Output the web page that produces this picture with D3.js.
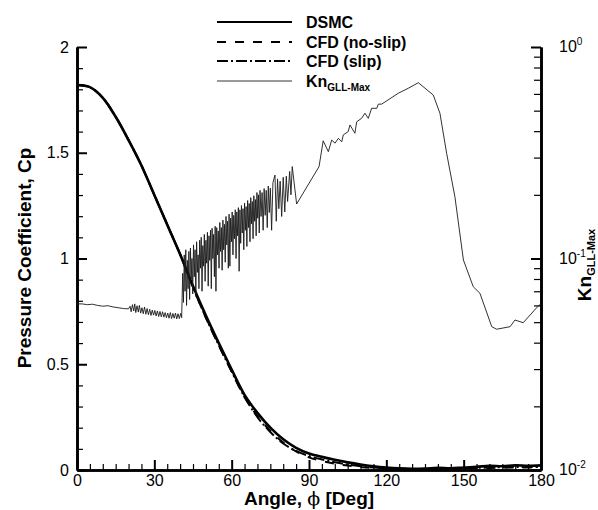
<!DOCTYPE html>
<html>
<head>
<meta charset="utf-8">
<script src="https://cdn.jsdelivr.net/npm/d3@7"></script>
<style>
  body { margin: 0; background: #fff; }
  text { font-family: "Liberation Sans", Arial, Helvetica, sans-serif; }
</style>
</head>
<body>
<script>
// Cp along the surface, angle in degrees
var cpAngle = [0, 5, 10, 15, 20, 25, 30, 35, 40, 45, 50, 55, 60, 65, 70, 75, 80, 85, 90, 95,
               100, 105, 110, 115, 120, 125, 130, 135, 140, 145, 150, 155, 160, 165, 170, 175, 180];
var cpDsmc = [1.82, 1.81, 1.76, 1.67, 1.56, 1.44, 1.30, 1.16, 1.02, 0.87, 0.73, 0.60, 0.475, 0.355, 0.27, 0.2, 0.145, 0.105, 0.078, 0.062,
              0.048, 0.036, 0.026, 0.018, 0.012, 0.008, 0.006, 0.007, 0.010, 0.008, 0.012, 0.015, 0.020, 0.018, 0.022, 0.020, 0.022];
var cpNoSlip = [1.82, 1.81, 1.76, 1.67, 1.56, 1.44, 1.30, 1.16, 1.02, 0.865, 0.72, 0.59, 0.465, 0.345, 0.255, 0.185, 0.13, 0.088, 0.06, 0.042,
                0.03, 0.021, 0.014, 0.009, 0.006, 0.004, 0.003, 0.003, 0.004, 0.005, 0.006, 0.008, 0.010, 0.011, 0.012, 0.012, 0.013];
var cpSlip = [1.82, 1.81, 1.76, 1.67, 1.56, 1.44, 1.30, 1.16, 1.02, 0.865, 0.72, 0.59, 0.465, 0.345, 0.25, 0.18, 0.125, 0.09, 0.066, 0.05,
              0.037, 0.026, 0.018, 0.012, 0.008, 0.006, 0.005, 0.005, 0.006, 0.007, 0.008, 0.010, 0.012, 0.013, 0.014, 0.014, 0.015];

// Kn GLL-Max, [angle, value]
var knData = [
  [0, 0.061], [2, 0.061], [4, 0.0605], [6, 0.0608], [8, 0.060], [10, 0.0595], [12, 0.0598], [14, 0.059],
  [16, 0.0585], [18, 0.058], [20, 0.0578], [20.6, 0.0595], [21, 0.056], [21.5, 0.0605], [22, 0.0565], [22.4, 0.061],
  [22.8, 0.0555], [23.3, 0.0598], [23.8, 0.0558], [24.2, 0.060], [24.7, 0.0552], [25.2, 0.0585], [25.7, 0.0548], [26.2, 0.059],
  [26.7, 0.0545], [27.2, 0.058], [27.7, 0.0542], [28.2, 0.0575], [28.7, 0.0538], [29.2, 0.057], [29.7, 0.054], [30.2, 0.0568],
  [30.7, 0.0535], [31.2, 0.0565], [31.7, 0.0532], [32.2, 0.0562], [32.7, 0.053], [33.2, 0.056], [33.7, 0.0528], [34.2, 0.0555],
  [34.7, 0.0525], [35.2, 0.0552], [35.7, 0.0522], [36.2, 0.0555], [36.7, 0.052], [37.2, 0.055], [37.7, 0.0522], [38.2, 0.0552],
  [38.7, 0.0518], [39.2, 0.0548], [39.7, 0.052], [40.2, 0.055], [40.6, 0.0525],
  [41.0, 0.085], [41.3, 0.062], [41.6, 0.104], [41.9, 0.07], [42.2, 0.11], [42.5, 0.06], [42.8, 0.098], [43.1, 0.072],
  [43.4, 0.108], [43.7, 0.064], [44.0, 0.112], [44.3, 0.08], [44.6, 0.1], [44.9, 0.068], [45.2, 0.116], [45.5, 0.082],
  [45.8, 0.11], [46.1, 0.066], [46.4, 0.12], [46.7, 0.086], [47.0, 0.104], [47.3, 0.072], [47.6, 0.122], [47.9, 0.09],
  [48.2, 0.126], [48.5, 0.07], [48.8, 0.115], [49.1, 0.092], [49.4, 0.13], [49.7, 0.078], [50.0, 0.122], [50.3, 0.095],
  [50.6, 0.133], [50.9, 0.074], [51.2, 0.128], [51.5, 0.098], [51.8, 0.136], [52.1, 0.072], [52.4, 0.139], [52.7, 0.1],
  [53.0, 0.13], [53.3, 0.082], [53.6, 0.142], [53.9, 0.07], [54.2, 0.14], [54.5, 0.104], [54.8, 0.135], [55.1, 0.09],
  [55.4, 0.148], [55.7, 0.108], [56.0, 0.14], [56.3, 0.088], [56.6, 0.152], [56.9, 0.11], [57.2, 0.145], [57.5, 0.096],
  [57.8, 0.158], [58.1, 0.116], [58.4, 0.15], [58.7, 0.09], [59.0, 0.162], [59.3, 0.092], [59.6, 0.155], [59.9, 0.12],
  [60.2, 0.166], [60.5, 0.104], [60.8, 0.16], [61.1, 0.124], [61.4, 0.17], [61.7, 0.1], [62.0, 0.166], [62.3, 0.128],
  [62.6, 0.174], [62.9, 0.087], [63.2, 0.17], [63.5, 0.118], [63.8, 0.178], [64.1, 0.132], [64.4, 0.172], [64.7, 0.11],
  [65.0, 0.183], [65.3, 0.136], [65.6, 0.176], [65.9, 0.114], [66.2, 0.188], [66.5, 0.14], [66.8, 0.182], [67.1, 0.12],
  [67.4, 0.194], [67.7, 0.146], [68.0, 0.186], [68.3, 0.124], [68.6, 0.198], [68.9, 0.15], [69.2, 0.19], [69.5, 0.128],
  [69.8, 0.205], [70.1, 0.155], [70.4, 0.2], [70.7, 0.132], [71.0, 0.21], [71.4, 0.158], [71.8, 0.205], [72.2, 0.136],
  [72.6, 0.214], [73.0, 0.16], [73.4, 0.21], [73.8, 0.14], [74.2, 0.22], [74.6, 0.165], [75.0, 0.215], [75.5, 0.136],
  [76.0, 0.228], [76.8, 0.248], [77.3, 0.15], [77.8, 0.238], [78.3, 0.172], [78.8, 0.232], [79.4, 0.158], [80.0, 0.242],
  [80.6, 0.166], [81.2, 0.245], [81.7, 0.186], [82.5, 0.258], [83.0, 0.2], [83.5, 0.272],
  [85.2, 0.181], [93.9, 0.272], [95.5, 0.36], [97.5, 0.32],
  [98.8, 0.363], [100.1, 0.351], [101.4, 0.37], [102.7, 0.356], [103.3, 0.384], [105.2, 0.398], [105.9, 0.428], [107.8, 0.391],
  [108.5, 0.443], [110.4, 0.46], [111.7, 0.486], [113, 0.46], [114.3, 0.513], [116.3, 0.513], [116.9, 0.537], [118.2, 0.537],
  [124.6, 0.604], [128.5, 0.638], [132.4, 0.678], [138.2, 0.593], [140.8, 0.486], [143.4, 0.314], [146.6, 0.196], [149.9, 0.0984],
  [153.7, 0.0736], [156.3, 0.0685], [160.9, 0.0476], [162.8, 0.0463], [168, 0.0476], [169.9, 0.0512], [173.1, 0.0497], [178.9, 0.0596],
  [180, 0.061]
];

var xTicks = [0, 30, 60, 90, 120, 150, 180];
var cpTicks = [0, 0.5, 1, 1.5, 2];
var knTicks = [0.01, 0.1, 1];
var knLabels = ["-2", "-1", "0"];

var width = 598,
    height = 510,
    plotLeft = 77, plotRight = 541, plotTop = 47, plotBottom = 470;

var svg = d3.select("body").append("svg")
    .attr("width", width)
    .attr("height", height);

var x = d3.scaleLinear().domain([0, 180]).range([plotLeft, plotRight]);
var y = d3.scaleLinear().domain([0, 2]).range([plotBottom, plotTop]);
var yKn = d3.scaleLog().domain([0.01, 1]).range([plotBottom, plotTop]);

// minor ticks
var xMinor = d3.range(0, 181, 5).filter(function(d) { return d % 30 != 0; });
var yMinor = d3.range(0, 21).map(function(d) { return d / 10; }).filter(function(d) { return cpTicks.indexOf(d) < 0; });
var knMinor = [];
[0.01, 0.1].forEach(function(dec) {
  for (var k = 2; k <= 9; k++) knMinor.push(dec * k);
});

svg.append("g")
    .attr("transform", "translate(0," + plotBottom + ")")
    .call(d3.axisBottom(x).tickValues(xMinor).tickSize(-6).tickSizeOuter(0).tickFormat(""));
svg.append("g")
    .attr("transform", "translate(" + plotLeft + ",0)")
    .call(d3.axisLeft(y).tickValues(yMinor).tickSize(-6).tickSizeOuter(0).tickFormat(""));
svg.append("g")
    .attr("transform", "translate(" + plotRight + ",0)")
    .call(d3.axisRight(yKn).tickValues(knMinor).tickSize(-7).tickSizeOuter(0).tickFormat(""));

var xAxis = svg.append("g")
    .attr("transform", "translate(0," + plotBottom + ")")
    .call(d3.axisBottom(x).tickValues(xTicks).tickSize(-10).tickSizeOuter(0).tickPadding(5).tickFormat(d3.format("d")));
var yAxis = svg.append("g")
    .attr("transform", "translate(" + plotLeft + ",0)")
    .call(d3.axisLeft(y).tickValues(cpTicks).tickSize(-10).tickSizeOuter(0).tickPadding(8).tickFormat(d3.format("~g")));
var knAxis = svg.append("g")
    .attr("transform", "translate(" + plotRight + ",0)")
    .call(d3.axisRight(yKn).tickValues(knTicks).tickSize(-10).tickSizeOuter(0).tickFormat(""));

svg.selectAll(".tick line").attr("stroke", "#000").attr("stroke-width", 1.2);
[xAxis, yAxis, knAxis].forEach(function(a) {
  a.selectAll(".tick line").attr("stroke-width", 2);
  a.selectAll("text").attr("font-size", 16).attr("fill", "#000")
    .style("font-family", "'Liberation Sans', Arial, sans-serif");
});
svg.selectAll(".domain").attr("stroke", "#000").attr("stroke-width", 2.6);

// log labels on the right
knTicks.forEach(function(t, i) {
  var lab = svg.append("text")
      .attr("x", plotRight + 18)
      .attr("y", yKn(t) + 5)
      .attr("font-size", 16);
  lab.append("tspan").text("10");
  lab.append("tspan").attr("dy", -7).attr("font-size", 10).text(knLabels[i]);
});

// curves
var line = d3.line()
    .x(function(d) { return x(d[0]); })
    .y(function(d) { return y(d[1]); })
    .curve(d3.curveCatmullRom);

function pairs(vals) {
  return cpAngle.map(function(a, i) { return [a, vals[i]]; });
}

var plot = svg.append("g");

plot.append("path")
    .datum(pairs(cpNoSlip))
    .attr("d", line)
    .attr("fill", "none").attr("stroke", "#000").attr("stroke-width", 2)
    .attr("stroke-dasharray", "9,9");

plot.append("path")
    .datum(pairs(cpSlip))
    .attr("d", line)
    .attr("fill", "none").attr("stroke", "#000").attr("stroke-width", 2)
    .attr("stroke-dasharray", "11,3,2,3");

plot.append("path")
    .datum(pairs(cpDsmc))
    .attr("d", line)
    .attr("fill", "none").attr("stroke", "#000").attr("stroke-width", 2.6);

var knLine = d3.line()
    .x(function(d) { return x(d[0]); })
    .y(function(d) { return yKn(d[1]); });

plot.append("path")
    .datum(knData)
    .attr("d", knLine)
    .attr("fill", "none").attr("stroke", "#1a1a1a").attr("stroke-width", 0.9);

// axis titles
svg.append("text")
    .attr("transform", "translate(31,258) rotate(-90)")
    .attr("text-anchor", "middle")
    .attr("font-size", 19).attr("font-weight", "bold")
    .text("Pressure Coefficient, Cp");

var xt = svg.append("text")
    .attr("x", 309).attr("y", 505)
    .attr("text-anchor", "middle")
    .attr("font-size", 19).attr("font-weight", "bold");
xt.append("tspan").text("Angle, ");
xt.append("tspan").attr("font-weight", "normal").style("font-family", "'DejaVu Serif', serif").text("\u03D5");
xt.append("tspan").text(" [Deg]");

var kt = svg.append("text")
    .attr("transform", "translate(591,265) rotate(-90)")
    .attr("text-anchor", "middle")
    .attr("font-weight", "bold");
kt.append("tspan").attr("font-size", 19).text("Kn");
kt.append("tspan").attr("font-size", 11).attr("dy", 4).text("GLL-Max");

// legend
var legend = [
  {name: "DSMC", dash: null, w: 2, color: "#000"},
  {name: "CFD (no-slip)", dash: "9,9", w: 2, color: "#000"},
  {name: "CFD (slip)", dash: "11,3,2,3", w: 2, color: "#000"},
  {name: "Kn", sub: "GLL-Max", dash: null, w: 1.8, color: "#999"}
];
var legY = [22, 42, 61, 81];

legend.forEach(function(d, i) {
  svg.append("line")
      .attr("x1", 217).attr("x2", 292)
      .attr("y1", legY[i]).attr("y2", legY[i])
      .attr("stroke", d.color).attr("stroke-width", d.w)
      .attr("stroke-dasharray", d.dash);
  var t = svg.append("text")
      .attr("x", 306).attr("y", legY[i] + 6)
      .attr("font-size", 16).attr("font-weight", "bold");
  t.append("tspan").text(d.name);
  if (d.sub) t.append("tspan").attr("font-size", 10).attr("dy", 4).text(d.sub);
});
</script>
</body>
</html>
